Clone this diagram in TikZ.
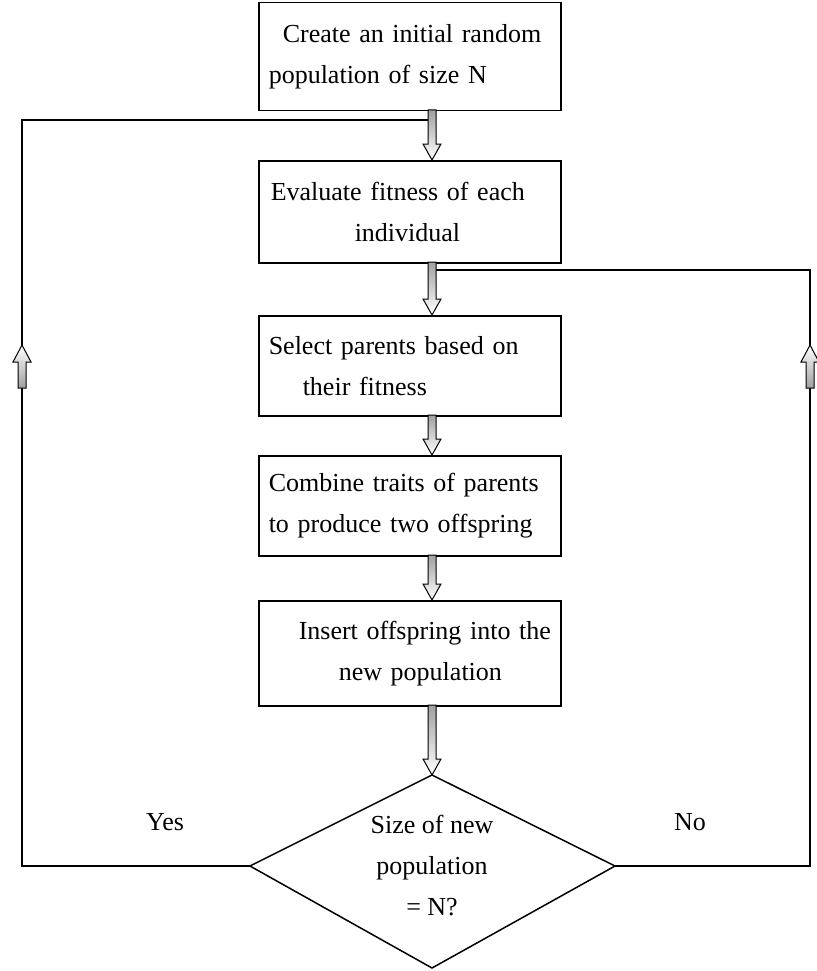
\documentclass[tikz,border=0pt]{standalone}
\usepackage{fontspec}
\setmainfont{Liberation Serif}
\usetikzlibrary{shapes.geometric,calc}

% vertical block arrows with a shaded body
\newcommand{\blkdown}[2]{%
  \draw[blockarrow,top color=gray!75,bottom color=white]
    let \p1=(#1), \p2=(#2) in
    (\x1-4pt,\y1) -- (\x1+4pt,\y1) -- (\x1+4pt,\y2+16pt) -- (\x1+9pt,\y2+16pt)
    -- (\x1,\y2) -- (\x1-9pt,\y2+16pt) -- (\x1-4pt,\y2+16pt) -- cycle;}
\newcommand{\blkup}[2]{%
  \draw[blockarrow,bottom color=gray!75,top color=white]
    let \p1=(#1), \p2=(#2) in
    (\x1-4pt,\y1) -- (\x1+4pt,\y1) -- (\x1+4pt,\y2-17pt) -- (\x1+9pt,\y2-17pt)
    -- (\x1,\y2) -- (\x1-9pt,\y2-17pt) -- (\x1-4pt,\y2-17pt) -- cycle;}

\begin{document}
\begin{tikzpicture}[x=1pt,y=-1pt,
  txt/.style={font=\fontsize{26}{41}\selectfont},
  box/.style={txt,draw,line width=1.5pt,anchor=north west,minimum width=302pt,
    minimum height=104pt,text width=290pt,inner xsep=6pt,align=left},
  link/.style={line width=1.5pt},
  blockarrow/.style={line width=1pt,line join=miter}]

\useasboundingbox (0,0) rectangle (816,971);

\node[box,minimum height=108pt] (b1) at (258,2)
  {\hspace*{18pt}Create an initial random\\\hspace*{4pt}population of size N};
\node[box,minimum height=102pt] (b2) at (258,160)
  {\hspace*{6pt}Evaluate fitness of each\\\hspace*{90pt}individual};
\node[box,minimum height=100pt] (b3) at (258,315)
  {\hspace*{4pt}Select parents based on\\\hspace*{38pt}their fitness};
\node[box,minimum height=100pt] (b4) at (258,455)
  {\hspace*{4pt}Combine traits of parents\\\hspace*{4pt}to produce two offspring};
\node[box,minimum height=105pt] (b5) at (258,600)
  {\hspace*{34pt}Insert offspring into the\\\hspace*{74pt}new population};

% decision diamond, its side corners on the loop lines
\coordinate (dtop) at (432,775);
\coordinate (dbot) at (432,968);
\coordinate (dw) at (250,866);
\coordinate (de) at (615,866);
\draw[link,line join=miter] (dtop) -- (de) -- (dbot) -- (dw) -- cycle;
\node[txt,align=center] (dect) at (432,866)
  {Size of new\\population\\= N?};

\node[txt] (yes) at (165,822) {Yes};
\node[txt] (no) at (690,822) {No};

% feedback loops
\coordinate (lb) at (22,120);
\coordinate (rb) at (810,270);
\coordinate (a1) at (432,110);
\draw[link] (dw) -| (lb) -- (lb -| a1);
\draw[link] (de) -| (rb) -- (rb -| a1);

% main flow arrows
\coordinate (t1) at (432,110);  \coordinate (h1) at (432,160);
\coordinate (t2) at (432,262);  \coordinate (h2) at (432,315);
\coordinate (t3) at (432,415);  \coordinate (h3) at (432,455);
\coordinate (t4) at (432,555);  \coordinate (h4) at (432,600);
\coordinate (t5) at (432,705);
\blkdown{t1}{h1}
\blkdown{t2}{h2}
\blkdown{t3}{h3}
\blkdown{t4}{h4}
\blkdown{t5}{dtop}

% direction marks on the loops
\coordinate (lu1) at (22,388); \coordinate (lu2) at (22,345);
\coordinate (ru1) at (810,388); \coordinate (ru2) at (810,345);
\blkup{lu1}{lu2}
\blkup{ru1}{ru2}
\end{tikzpicture}
\end{document}
